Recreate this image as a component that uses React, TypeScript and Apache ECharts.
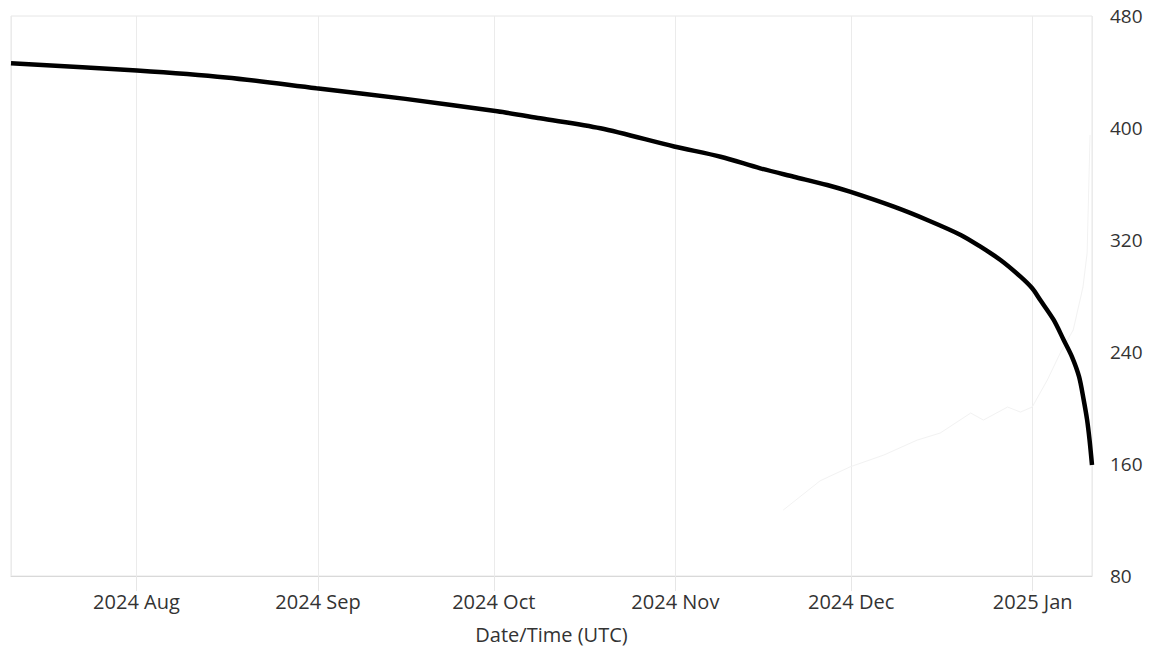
import React, { useEffect, useRef } from "react";
import * as echarts from "echarts";

// Main series: timestamp (UTC) and value
const mainTimes: string[] = [
  "2024-07-10T14:00:00Z", "2024-08-01T02:00:00Z", "2024-08-16T07:00:00Z", "2024-08-31T17:00:00Z",
  "2024-09-15T22:00:00Z", "2024-10-01T14:00:00Z", "2024-10-08T22:00:00Z", "2024-10-19T05:00:00Z",
  "2024-10-31T19:00:00Z", "2024-11-08T17:00:00Z", "2024-11-15T12:00:00Z", "2024-11-21T05:00:00Z",
  "2024-11-26T22:00:00Z", "2024-11-30T19:00:00Z", "2024-12-08T07:00:00Z", "2024-12-14T00:00:00Z",
  "2024-12-19T17:00:00Z", "2024-12-23T02:00:00Z", "2024-12-26T12:00:00Z", "2024-12-29T22:00:00Z",
  "2024-12-31T22:00:00Z", "2025-01-02T07:00:00Z", "2025-01-04T14:00:00Z", "2025-01-06T07:00:00Z",
  "2025-01-07T17:00:00Z", "2025-01-08T22:00:00Z", "2025-01-09T17:00:00Z", "2025-01-10T07:00:00Z",
  "2025-01-10T17:00:00Z", "2025-01-11T03:00:00Z",
];
const mainValues: number[] = [
  446.3, 441.1, 436.1, 428.4,
  420.8, 411.9, 406.9, 399.8,
  386.8, 379.5, 371.2, 365.2,
  359.3, 354.5, 343.8, 334.3,
  323.6, 315.2, 305.7, 293.8,
  285.5, 277.1, 262.9, 248.6,
  236.6, 222.4, 205.7, 191.4,
  177.1, 159.3,
];

// Faint secondary series (barely visible)
const ghostTimes: string[] = [
  "2024-11-19T10:00:00Z", "2024-11-25T17:00:00Z", "2024-11-30T19:00:00Z", "2024-12-06T14:00:00Z",
  "2024-12-12T07:00:00Z", "2024-12-16T05:00:00Z", "2024-12-21T10:00:00Z", "2024-12-23T14:00:00Z",
  "2024-12-27T17:00:00Z", "2024-12-29T22:00:00Z", "2024-12-31T22:00:00Z", "2025-01-03T12:00:00Z",
  "2025-01-05T17:00:00Z", "2025-01-07T22:00:00Z", "2025-01-09T14:00:00Z", "2025-01-10T07:00:00Z",
  "2025-01-10T19:00:00Z",
];
const ghostValues: number[] = [
  127.1, 148.0, 157.9, 166.4,
  177.1, 182.1, 196.4, 191.4,
  200.7, 197.1, 200.7, 220.0,
  239.3, 255.7, 286.4, 310.7,
  395.0,
];

const yTicks = { min: 80, max: 480, interval: 80 };
const monthNames = ["Jan", "Feb", "Mar", "Apr", "May", "Jun", "Jul", "Aug", "Sep", "Oct", "Nov", "Dec"];
const xAxisTitle = "Date/Time (UTC)";

export default function App() {
  const ref = useRef<HTMLDivElement>(null);
  useEffect(() => {
    document.body.style.margin = "0";
    if (!ref.current) return;
    const chart = echarts.init(ref.current, undefined, { renderer: "svg" });
    const font = "Open Sans";
    chart.setOption({
      animation: false,
      useUTC: true,
      backgroundColor: "#ffffff",
      grid: {
        left: 11,
        right: 62,
        top: 16,
        bottom: 73,
        show: true,
        borderColor: "#e6e6e6",
        borderWidth: 1,
        containLabel: false,
        outerBoundsMode: "none",
      },
      xAxis: {
        type: "time",
        min: new Date(mainTimes[0]).getTime(),
        max: new Date(mainTimes[mainTimes.length - 1]).getTime(),
        splitNumber: 7,
        minInterval: 28 * 86400000,
        name: xAxisTitle,
        nameLocation: "middle",
        nameGap: 48,
        nameTextStyle: { fontFamily: font, fontSize: 20, lineHeight: 20, color: "#333" },
        axisLine: { show: true, lineStyle: { color: "#d9d9d9", width: 1 } },
        axisTick: { show: true, length: 15, lineStyle: { color: "#e6e6e6" } },
        splitLine: { show: true, lineStyle: { color: "#ebebeb", width: 1 } },
        minorTick: { show: false },
        axisLabel: {
          showMinLabel: false,
          showMaxLabel: false,
          margin: 15,
          fontFamily: font,
          fontSize: 20,
          color: "#333",
          formatter: (val: number) => {
            const d = new Date(val);
            return `${d.getUTCFullYear()} ${monthNames[d.getUTCMonth()]}`;
          },
        },
      },
      yAxis: {
        type: "value",
        position: "right",
        min: yTicks.min,
        max: yTicks.max,
        interval: yTicks.interval,
        axisLine: { show: false },
        axisTick: { show: false },
        splitLine: { show: false },
        axisLabel: { margin: 18, fontFamily: font, fontSize: 19, color: "#333" },
      },
      series: [
        {
          type: "line",
          data: ghostTimes.map((t, i) => [t, ghostValues[i]]),
          showSymbol: false,
          lineStyle: { color: "#f2f2f2", width: 1 },
          silent: true,
          z: 1,
        },
        {
          type: "line",
          data: mainTimes.map((t, i) => [t, mainValues[i]]),
          showSymbol: false,
          smooth: 0.3,
          lineStyle: { color: "#000000", width: 4.5 },
          z: 2,
        },
      ],
    });
    return () => chart.dispose();
  }, []);
  return <div ref={ref} style={{ width: 1154, height: 649 }} />;
}
